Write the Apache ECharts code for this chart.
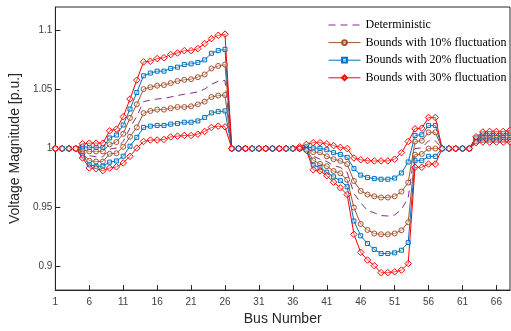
<!DOCTYPE html>
<html>
<head>
<meta charset="utf-8">
<script src="https://cdn.jsdelivr.net/npm/echarts@6/dist/echarts.min.js"></script>
<style>
  html, body { margin: 0; padding: 0; background: #fff; }
  #chart { width: 511px; height: 331px; }
</style>
</head>
<body>
<div id="chart"></div>
<script>
// Bus indices along the feeder
const busNumbers = Array.from({ length: 68 }, (_, i) => String(i + 1));
const yTickValues = [0.9, 0.95, 1, 1.05, 1.1];

// Deterministic voltage profile
const deterministic = [
  1, 1, 1, 1, 0.9975, 0.994, 0.993, 0.993, 0.9995, 1.0005, 1.006, 1.0175, 1.0275,
  1.0398, 1.041, 1.042, 1.0425, 1.0437, 1.045, 1.046, 1.047, 1.048, 1.0504, 1.0545, 1.057, 1.0578,
  1, 1, 1, 1, 1, 1, 1, 1, 1, 1,
  1, 1, 0.9935, 0.991, 0.989, 0.9855, 0.984, 0.980, 0.962, 0.954, 0.9475, 0.9455, 0.9432, 0.9428,
  0.9437, 0.9484, 0.9583, 1.0, 1.0005, 1.0066, 1.0066,
  1, 1, 1, 1, 1,
  1.0075, 1.0098, 1.01, 1.01, 1.01, 1.0102
];

// 10% fluctuation bounds
const upper10 = [
  1, 1, 1, 1, 0.999, 0.9976, 0.9976, 0.9976, 1.0035, 1.0055, 1.0125, 1.026, 1.0375,
  1.0504, 1.052, 1.0533, 1.0538, 1.0555, 1.0572, 1.0583, 1.0588, 1.0605, 1.0628, 1.0679, 1.070, 1.0712,
  1, 1, 1, 1, 1, 1, 1, 1, 1, 1,
  1, 1.0005, 0.997, 0.9968, 0.9934, 0.991, 0.9895, 0.9868, 0.9725, 0.964, 0.961, 0.9595, 0.9585, 0.9585,
  0.9595, 0.9635, 0.9712, 1.006, 1.0066, 1.0137, 1.0137,
  1, 1, 1, 1, 1,
  1.0085, 1.011, 1.0112, 1.0112, 1.0112, 1.0115
];
const lower10 = [
  1, 1, 1, 1, 0.996, 0.9897, 0.989, 0.989, 0.9955, 0.996, 1.0015, 1.010, 1.018,
  1.030, 1.0319, 1.033, 1.033, 1.0341, 1.0352, 1.0352, 1.0358, 1.0375, 1.0398, 1.0437, 1.0449, 1.0454,
  1, 1, 1, 1, 1, 1, 1, 1, 1, 1,
  1, 0.9995, 0.990, 0.987, 0.985, 0.981, 0.979, 0.9735, 0.950, 0.936, 0.931, 0.928, 0.9273, 0.9273,
  0.928, 0.9307, 0.9375, 0.9948, 0.9954, 1.0, 1.0,
  1, 1, 1, 1, 1,
  1.0065, 1.0088, 1.0088, 1.0088, 1.009, 1.009
];

// 20% fluctuation bounds
const upper20 = [
  1, 1, 1, 1, 1.0015, 1.001, 1.001, 1.001, 1.009, 1.0115, 1.020, 1.0335, 1.0475,
  1.0617, 1.064, 1.0656, 1.0656, 1.0679, 1.069, 1.0712, 1.0718, 1.073, 1.0752, 1.0808, 1.083, 1.0841,
  1, 1, 1, 1, 1, 1, 1, 1, 1, 1,
  1.0005, 1.0015, 1.0005, 1.0002, 0.999, 0.9965, 0.995, 0.9925, 0.983, 0.9775, 0.9755, 0.9745, 0.974, 0.974,
  0.975, 0.9793, 0.9886, 1.0111, 1.0117, 1.0196, 1.0196,
  1, 1, 1, 1, 1,
  1.009, 1.0125, 1.0128, 1.0128, 1.0128, 1.013
];
const lower20 = [
  1, 1, 1, 1, 0.994, 0.9863, 0.985, 0.985, 0.9885, 0.9895, 0.9935, 1.002, 1.0095,
  1.0179, 1.019, 1.0196, 1.0196, 1.0207, 1.0212, 1.0223, 1.0223, 1.0234, 1.0263, 1.0302, 1.0313, 1.0319,
  1, 1, 1, 1, 1, 1, 1, 1, 1, 1,
  1, 0.999, 0.986, 0.984, 0.980, 0.976, 0.9728, 0.9676, 0.9386, 0.926, 0.9195, 0.9145, 0.911, 0.911,
  0.9116, 0.9138, 0.9203, 0.9897, 0.9897, 0.9934, 0.9934,
  1, 1, 1, 1, 1,
  1.0058, 1.0072, 1.0072, 1.0072, 1.0075, 1.0075
];

// 30% fluctuation bounds
const upper30 = [
  1, 1, 1, 1, 1.004, 1.0046, 1.0046, 1.0046, 1.015, 1.0165, 1.027, 1.042, 1.058,
  1.0735, 1.074, 1.0763, 1.077, 1.0797, 1.081, 1.083, 1.083, 1.0847, 1.089, 1.0932, 1.096, 1.097,
  1, 1, 1, 1, 1, 1, 1, 1, 1, 1,
  1.0015, 1.0035, 1.005, 1.005, 1.004, 1.0025, 1.001, 1.0, 0.992, 0.9905, 0.9897, 0.9895, 0.9895, 0.9895,
  0.991, 0.9965, 1.006, 1.0167, 1.0173, 1.0263, 1.0263,
  1, 1, 1, 1, 1,
  1.010, 1.014, 1.0145, 1.0145, 1.0145, 1.0153
];
const lower30 = [
  1, 1, 1, 1, 0.992, 0.9836, 0.983, 0.9813, 0.9835, 0.9845, 0.9878, 0.9934, 1.0004,
  1.006, 1.0072, 1.0072, 1.0077, 1.0099, 1.0105, 1.0111, 1.0111, 1.0122, 1.0145, 1.0179, 1.019, 1.0184,
  1, 1, 1, 1, 1, 1, 1, 1, 1, 1,
  1, 0.9985, 0.982, 0.981, 0.977, 0.9715, 0.9667, 0.961, 0.9273, 0.912, 0.9055, 0.9007, 0.8948, 0.8948,
  0.8955, 0.897, 0.9025, 0.9841, 0.9841, 0.9869, 0.9869,
  1, 1, 1, 1, 1,
  1.005, 1.0055, 1.0055, 1.0055, 1.0055, 1.0055
];

const seriesNames = [
  'Deterministic',
  'Bounds with 10% fluctuation',
  'Bounds with 20% fluctuation',
  'Bounds with 30% fluctuation'
];

const axisColor = '#262626';
const sansFont = '"Liberation Sans", Arial, sans-serif';
const serifFont = '"Liberation Serif", "Times New Roman", serif';

function boundSeries(name, color, symbol, symbolSize, data) {
  return {
    name: name,
    type: 'line',
    data: data,
    symbol: symbol,
    symbolSize: symbolSize,
    showAllSymbol: true,
    lineStyle: { color: color, width: 1 },
    itemStyle: { color: 'rgba(255,255,255,0.3)', borderColor: color, borderWidth: 1 },
    emphasis: { disabled: true }
  };
}

const bands = [
  { name: seriesNames[1], color: '#A2522D', symbol: 'circle', size: 5, upper: upper10, lower: lower10 },
  { name: seriesNames[2], color: '#0072BD', symbol: 'rect', size: 4, upper: upper20, lower: lower20 },
  { name: seriesNames[3], color: '#FF0000', symbol: 'diamond', size: 6.5, upper: upper30, lower: lower30 }
];

const series = [{
  name: seriesNames[0],
  type: 'line',
  data: deterministic,
  symbol: 'none',
  lineStyle: { color: '#7E2F8E', width: 1, type: [7, 5] },
  itemStyle: { color: '#7E2F8E' },
  emphasis: { disabled: true }
}];
bands.forEach(b => {
  series.push(boundSeries(b.name, b.color, b.symbol, b.size, b.upper));
  series.push(boundSeries(b.name, b.color, b.symbol, b.size, b.lower));
});

const legendItems = seriesNames.map((n, i) => i === 0
  ? { name: n, itemStyle: { color: 'transparent', borderColor: 'transparent', borderWidth: 0 } }
  : { name: n });

const chart = echarts.init(document.getElementById('chart'), null, { renderer: 'canvas' });
chart.setOption({
  animation: false,
  backgroundColor: '#fff',
  grid: {
    left: 52, right: 1, top: 7, bottom: 39,
    show: true, borderColor: axisColor, borderWidth: 1, backgroundColor: 'transparent'
  },
  legend: {
    data: legendItems,
    orient: 'vertical',
    left: 328,
    top: 18,
    padding: 0,
    itemWidth: 32,
    itemHeight: 6,
    itemGap: 3.6,
    lineStyle: { width: 1 },
    textStyle: { fontFamily: serifFont, fontSize: 12, lineHeight: 14, color: '#000' },
    selectedMode: false
  },
  xAxis: {
    type: 'category',
    data: busNumbers,
    boundaryGap: false,
    name: 'Bus Number',
    nameLocation: 'middle',
    nameGap: 21,
    nameTextStyle: { fontFamily: sansFont, fontSize: 14, color: axisColor },
    axisLine: { lineStyle: { color: axisColor, width: 1 } },
    axisTick: { inside: true, length: 5, interval: 4, lineStyle: { color: axisColor } },
    axisLabel: { interval: 4, margin: 7, fontFamily: sansFont, fontSize: 10, color: '#404040' },
    splitLine: { show: false }
  },
  yAxis: {
    type: 'value',
    min: 0.88,
    max: 1.12,
    name: 'Voltage Magnitude [p.u.]',
    nameLocation: 'middle',
    nameGap: 32,
    nameTextStyle: { fontFamily: sansFont, fontSize: 14, color: axisColor },
    axisLine: { show: true, lineStyle: { color: axisColor, width: 1 } },
    axisTick: { show: true, inside: true, length: 5, customValues: yTickValues, lineStyle: { color: axisColor } },
    axisLabel: { margin: 3, customValues: yTickValues, fontFamily: sansFont, fontSize: 10, color: '#404040' },
    splitLine: { show: false }
  },
  series: series
});
</script>
</body>
</html>
